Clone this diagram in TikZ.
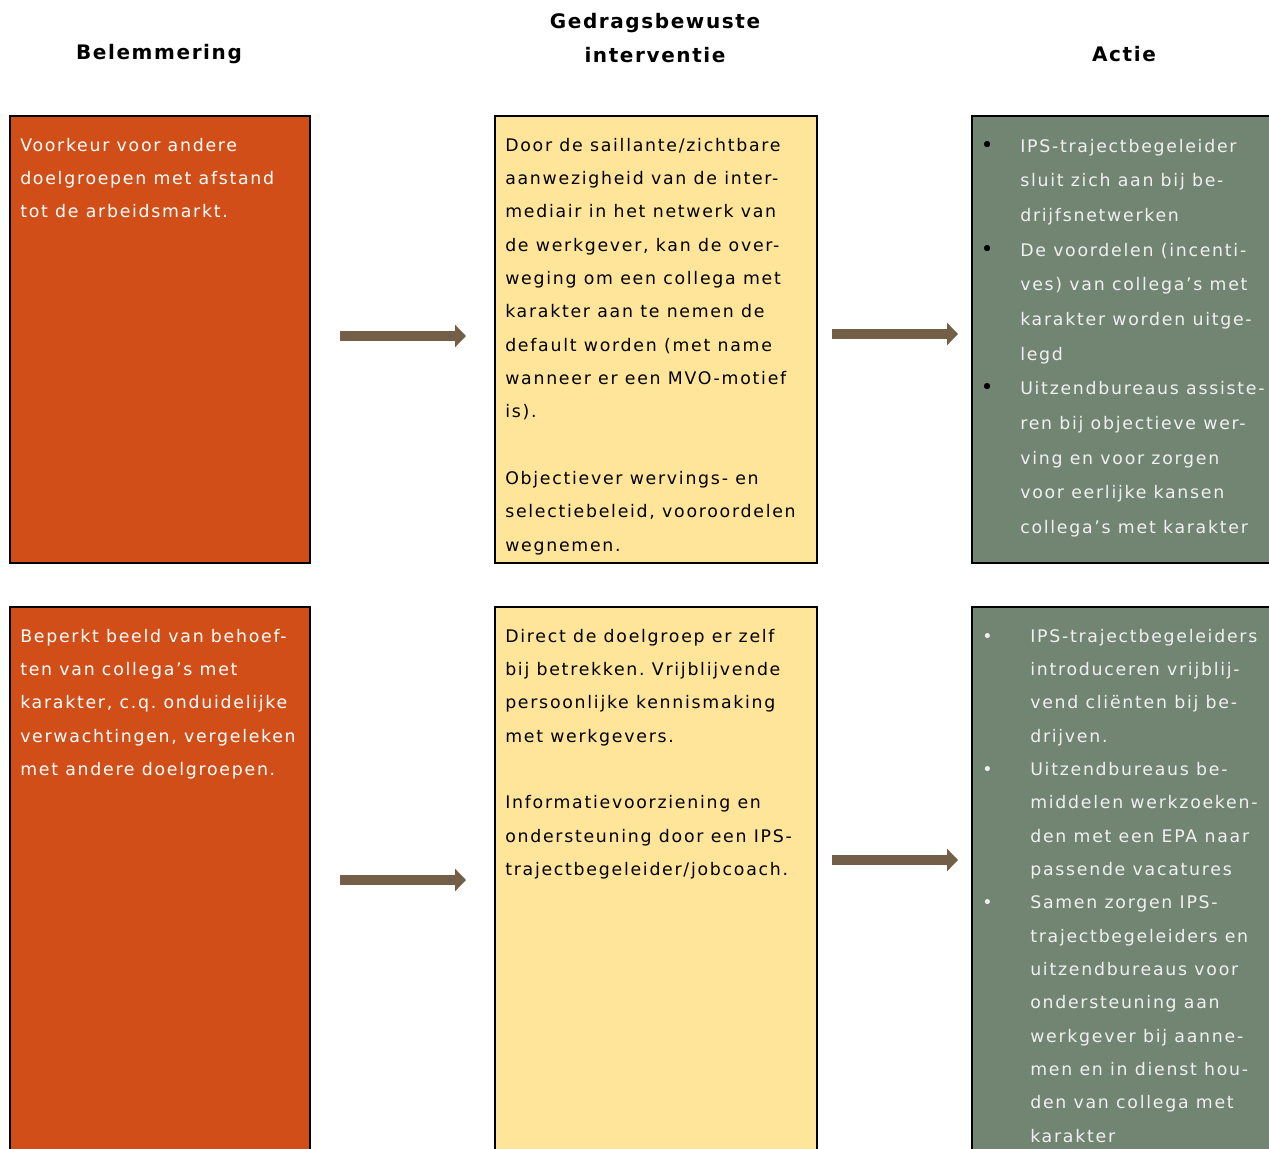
\documentclass[tikz,border=0pt]{standalone}
\usepackage{fontspec}
\setmainfont{DejaVu Sans}[LetterSpace=10]
\usetikzlibrary{positioning,calc,arrows.meta}
\definecolor{belorange}{RGB}{210,78,24}
\definecolor{intyellow}{RGB}{255,229,153}
\definecolor{actgreen}{RGB}{114,133,115}
\definecolor{arrowbrown}{RGB}{115,94,72}
\newcommand{\blackdot}{\llap{\makebox[29.5pt][l]{\textcolor{black}{\fontsize{16pt}{16pt}\selectfont\textbullet}}}}
\newcommand{\whitedot}{\llap{\makebox[36pt][l]{\textbullet}}}
\frenchspacing

\begin{document}
\begin{tikzpicture}[x=0.75pt,y=-0.75pt]

      \useasboundingbox (0,0) rectangle (1269,1148);
      \tikzstyle{mybox}=[draw=black, line width=1.5pt, inner sep=0pt, anchor=north west];
      \tikzstyle{rowone}=[minimum height=335.25pt];
      \tikzstyle{rowtwo}=[minimum height=420pt];
      \tikzstyle{mytext}=[anchor=north west, inner sep=0pt, align=left, font=\fontsize{13pt}{25pt}\selectfont];
      \tikzstyle{myhead}=[align=center, font=\fontsize{15pt}{25pt}\selectfont\bfseries\addfontfeatures{LetterSpace=8}];
      \tikzstyle{myarrow}=[line width=7.5pt, arrowbrown, -{Triangle[length=8.25pt,width=16.5pt]}];

      % headers
      \node[myhead] (hbel) at (159,54) {Belemmering};
      \node[myhead] (hint) at (655,38) {Gedragsbewuste\\interventie};
      \node[myhead] (hact) at (1124,54) {Actie};

      % boxes
      \node[mybox, rowone, fill=belorange, minimum width=225pt]   (bel1) at (9,115) {};
      \node[mybox, rowone, fill=intyellow, minimum width=241.5pt] (int1) at (494,115) {};
      \node[mybox, rowone, fill=actgreen,  minimum width=240pt]   (act1) at (971,115) {};
      \node[mybox, rowtwo, fill=belorange, minimum width=225pt]   (bel2) at (9,606) {};
      \node[mybox, rowtwo, fill=intyellow, minimum width=241.5pt] (int2) at (494,606) {};
      \node[mybox, rowtwo, fill=actgreen,  minimum width=240pt]   (act2) at (971,606) {};

      % texts
      \node[mytext, text=white] (tbel1) at ($(bel1.north west)+(11,20)$) {\rule{0pt}{12pt}Voorkeur voor andere\\
        doelgroepen met afstand\\tot de arbeidsmarkt.};
      \node[mytext] (tint1) at ($(int1.north west)+(11,20)$) {\rule{0pt}{12pt}Door de saillante/zichtbare\\
        aanwezigheid van de inter-\\mediair in het netwerk van\\de werkgever, kan de over-\\
        weging om een collega met\\karakter aan te nemen de\\default worden (met name\\
        wanneer er een MVO-motief\\is).\\[25pt]Objectiever wervings- en\\selectiebeleid, vooroordelen\\wegnemen.};
      \node[mytext, text=white!94!black, font=\fontsize{13pt}{26pt}\selectfont] (tact1) at ($(act1.north west)+(49,21)$) {\rule{0pt}{12pt}\blackdot IPS-trajectbegeleider\\
        sluit zich aan bij be-\\drijfsnetwerken\\
        \blackdot De voordelen (incenti-\\ves) van collega’s met\\karakter worden uitge-\\legd\\
        \blackdot Uitzendbureaus assiste-\\ren bij objectieve wer-\\ving en voor zorgen\\voor eerlijke kansen\\collega’s met karakter};
      \node[mytext, text=white] (tbel2) at ($(bel2.north west)+(11,20)$) {\rule{0pt}{12pt}Beperkt beeld van behoef-\\
        ten van collega’s met\\karakter, c.q. onduidelijke\\verwachtingen, vergeleken\\met andere doelgroepen.};
      \node[mytext] (tint2) at ($(int2.north west)+(11,20)$) {\rule{0pt}{12pt}Direct de doelgroep er zelf\\
        bij betrekken. Vrijblijvende\\persoonlijke kennismaking\\met werkgevers.\\[25pt]
        Informatievoorziening en\\ondersteuning door een IPS-\\trajectbegeleider/jobcoach.};
      \node[mytext, text=white!94!black] (tact2) at ($(act2.north west)+(59,20)$) {\rule{0pt}{12pt}\whitedot IPS-trajectbegeleiders\\
        introduceren vrijblij-\\vend cliënten bij be-\\drijven.\\
        \whitedot Uitzendbureaus be-\\middelen werkzoeken-\\den met een EPA naar\\passende vacatures\\
        \whitedot Samen zorgen IPS-\\trajectbegeleiders en\\uitzendbureaus voor\\ondersteuning aan\\
        werkgever bij aanne-\\men en in dienst hou-\\den van collega met\\karakter};

      % arrows
      \draw[myarrow] ($(bel1.east)+(29,-3.5)$) -- ($(int1.west)+(-28,-3.5)$);
      \draw[myarrow] ($(int1.east)+(14,-5.5)$) -- ($(act1.west)+(-13,-5.5)$);
      \draw[myarrow] ($(bel2.east)+(29,-7)$) -- ($(int2.west)+(-28,-7)$);
      \draw[myarrow] ($(int2.east)+(14,-27)$) -- ($(act2.west)+(-13,-27)$);
\end{tikzpicture}
\end{document}
